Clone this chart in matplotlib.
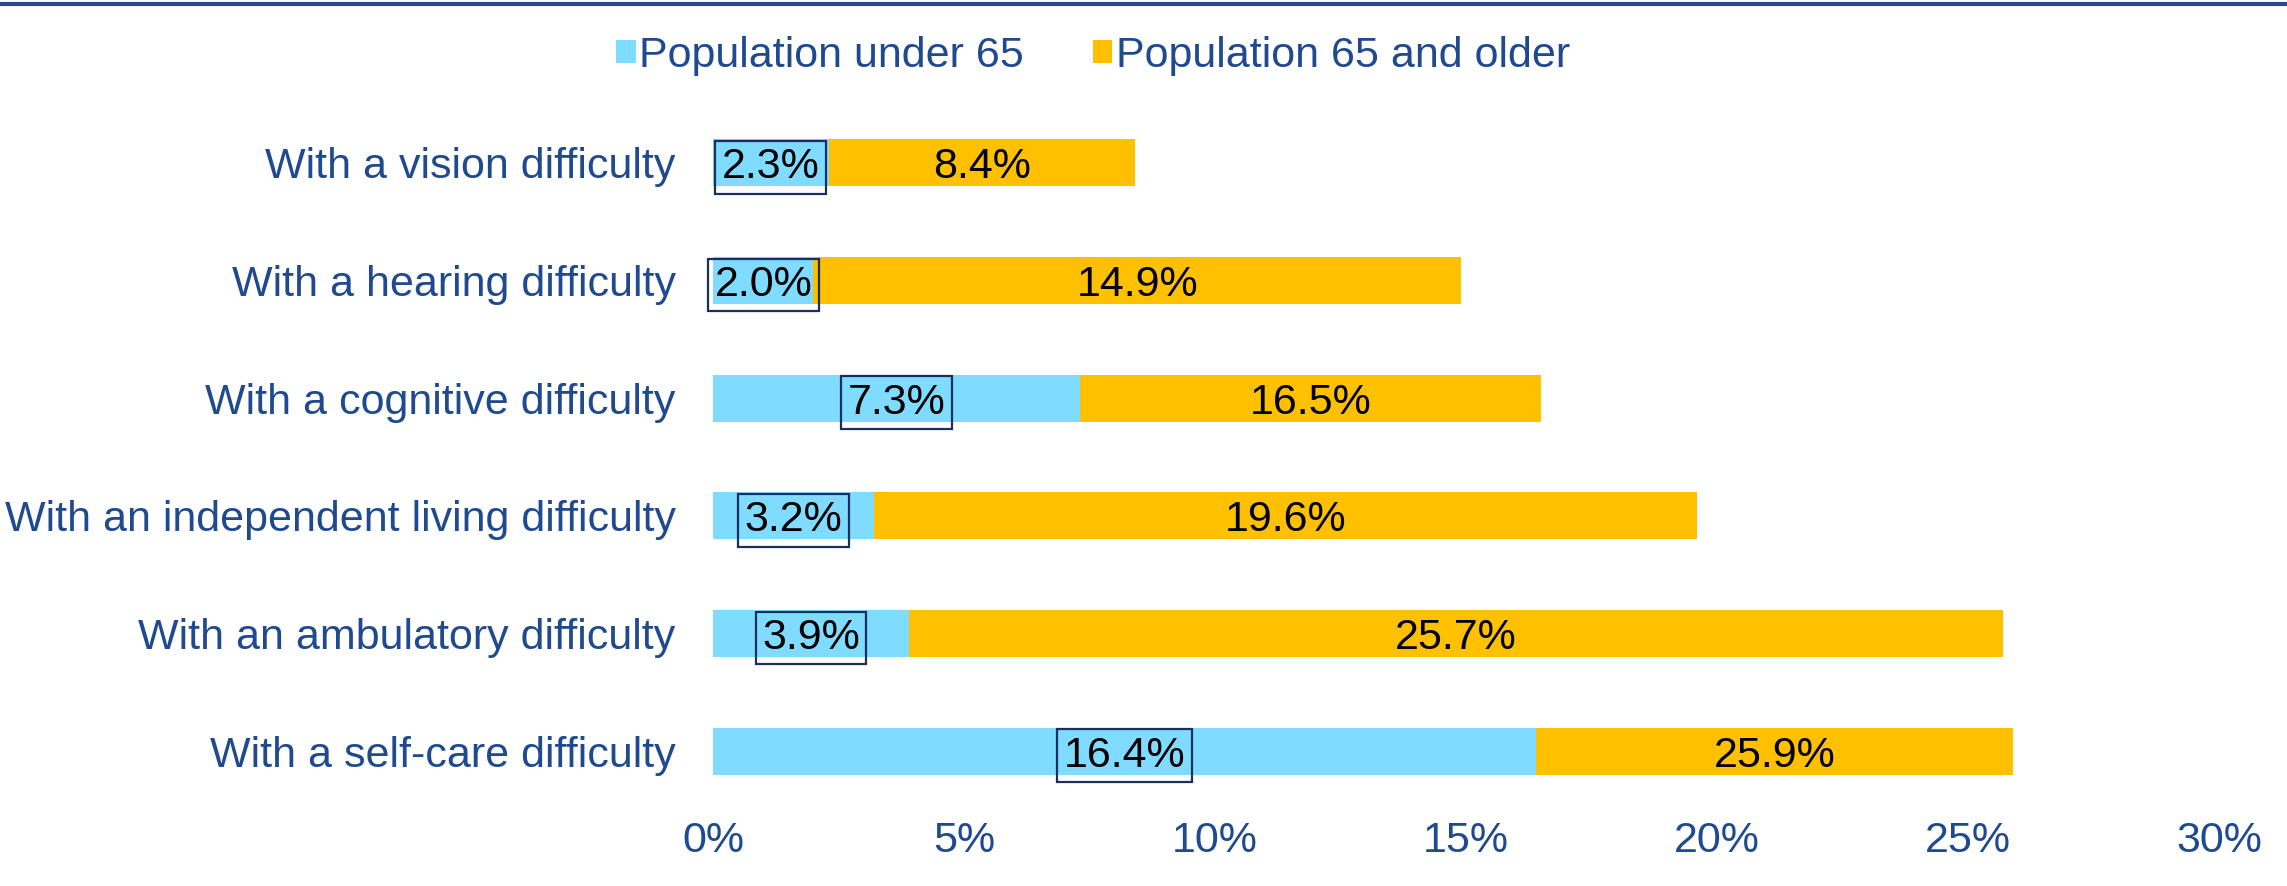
import matplotlib.pyplot as plt
import numpy as np
from matplotlib.lines import Line2D

plt.rcParams['font.family'] = ['Liberation Sans', 'DejaVu Sans']

## data, top to bottom as in the picture
categories = ['With a vision difficulty', 'With a hearing difficulty',
              'With a cognitive difficulty', 'With an independent living difficulty',
              'With an ambulatory difficulty', 'With a self-care difficulty']
under_65 = [2.3, 2.0, 7.3, 3.2, 3.9, 16.4]
over_65 = [8.4, 14.9, 16.5, 19.6, 25.7, 25.9]
xticks = [0, 5, 10, 15, 20, 25, 30]

blue = '#7FDBFF'
orange = '#FFC000'
navy = '#1F4A8F'
fs = 31

fig = plt.figure(figsize=(22.87, 8.86), dpi=100)
ax = fig.add_axes([0.3118, 0.0858, 0.9703 - 0.3118, 0.8826 - 0.0858])

ypos = np.arange(len(categories))[::-1]
bh = 0.4

## orange drawn from zero, blue on top of it
b2 = ax.barh(ypos, over_65, height=bh, color=orange, label='Population 65 and older')
b1 = ax.barh(ypos, under_65, height=bh, color=blue, label='Population under 65')

for y, u, o in zip(ypos, under_65, over_65):
    ax.text(u / 2, y, f'{u:.1f}%', ha='center', va='center_baseline', fontsize=fs, color='black',
            bbox=dict(boxstyle='square,pad=0.15', facecolor='none', edgecolor='#1B2F5E', lw=1.6))
    ax.text((u + o) / 2, y, f'{o:.1f}%', ha='center', va='center_baseline', fontsize=fs, color='black')

ax.set_xlim(0, 30)
ax.set_ylim(-0.5, len(categories) - 0.5)
ax.set_xticks(xticks)
ax.set_xticklabels([f'{t}%' for t in xticks])
ax.set_yticks(ypos)
ax.set_yticklabels(categories)
ax.tick_params(axis='both', length=0, labelsize=fs, labelcolor=navy)
ax.tick_params(axis='y', pad=27)
ax.tick_params(axis='x', pad=8)
for s in ax.spines.values():
    s.set_visible(False)

leg = fig.legend(handles=[b1, b2], loc='center', bbox_to_anchor=(0.478, 0.937), ncol=2,
                 frameon=False, fontsize=fs, handlelength=0.45, handleheight=0.45,
                 handletextpad=0.08, columnspacing=1.6)
for t in leg.get_texts():
    t.set_color(navy)

## thin rule along the top edge
fig.add_artist(Line2D([0, 1], [0.996, 0.996], color='#2B4C8C', lw=3, transform=fig.transFigure))

fig.savefig('out.png', dpi=100)
